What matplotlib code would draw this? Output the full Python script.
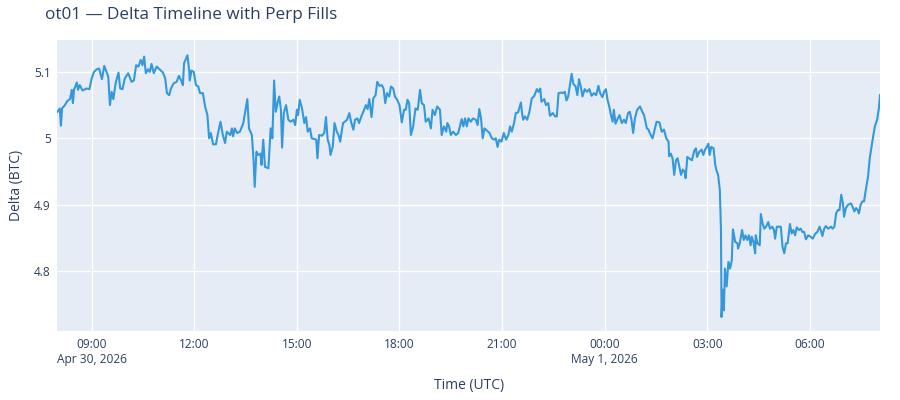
"""Delta timeline for ot01, re-drawn in matplotlib in a plotly-like style."""

import numpy as np
import pandas as pd
import matplotlib
matplotlib.use("Agg")
import matplotlib.pyplot as plt
import matplotlib.dates as mdates
from matplotlib.ticker import FuncFormatter

START = pd.Timestamp("2026-04-30 08:00")

# minutes after START and delta (BTC)
minutes = [
    0, 4, 6, 8, 13, 17, 22, 25, 27, 29, 34, 36, 39, 44, 51, 56, 60, 64, 69, 73,
    78, 82, 86, 89, 92, 95, 98, 102, 107, 110, 114, 118, 124, 130, 134, 138, 142, 146, 149, 152,
    155, 159, 162, 165, 169, 174, 179, 185, 189, 192, 196, 199, 204, 209, 213, 217, 220, 222, 228, 231,
    232, 235, 239, 243, 247, 250, 255, 259, 263, 266, 269, 273, 278, 281, 286, 290, 294, 297, 303, 306,
    308, 311, 315, 320, 326, 333, 336, 341, 344, 346, 349, 352, 356, 358, 361, 364, 370, 374, 377, 380,
    383, 386, 389, 392, 394, 397, 401, 405, 409, 414, 417, 420, 422, 425, 429, 433, 436, 439, 443, 446,
    450, 454, 456, 459, 464, 468, 471, 474, 477, 479, 483, 486, 490, 493, 496, 499, 501, 504, 508, 512,
    515, 519, 522, 526, 529, 534, 538, 541, 544, 547, 551, 554, 558, 561, 565, 569, 572, 575, 578, 582,
    585, 589, 592, 596, 600, 604, 608, 611, 614, 617, 620, 624, 628, 632, 636, 639, 643, 646, 651, 655,
    658, 662, 666, 671, 674, 678, 682, 684, 687, 690, 694, 699, 703, 706, 709, 712, 715, 718, 721, 725,
    729, 734, 737, 740, 743, 746, 749, 753, 758, 762, 766, 769, 772, 775, 779, 783, 787, 791, 794, 797,
    801, 804, 808, 813, 815, 817, 820, 824, 828, 832, 836, 841, 844, 847, 849, 854, 857, 861, 864, 869,
    873, 876, 879, 883, 886, 890, 893, 896, 899, 902, 905, 909, 912, 915, 918, 921, 925, 929, 933, 937,
    941, 945, 949, 952, 956, 959, 962, 965, 968, 971, 974, 976, 979, 983, 986, 990, 994, 997, 1001, 1004,
    1007, 1010, 1013, 1017, 1022, 1026, 1029, 1032, 1034, 1037, 1039, 1044, 1048, 1051, 1056, 1060, 1064, 1068, 1072, 1073,
    1076, 1079, 1082, 1085, 1088, 1091, 1094, 1097, 1100, 1102, 1105, 1108, 1113, 1117, 1120, 1122, 1126, 1130, 1133, 1136,
    1139, 1142, 1144, 1147, 1151, 1154, 1156, 1159, 1162, 1164, 1165, 1167, 1169, 1171, 1174, 1177, 1180, 1183, 1185, 1189,
    1193, 1194, 1197, 1201, 1204, 1207, 1210, 1213, 1216, 1218, 1221, 1224, 1225, 1228, 1232, 1234, 1237, 1240, 1243, 1247,
    1250, 1254, 1257, 1259, 1262, 1266, 1269, 1272, 1275, 1278, 1281, 1285, 1288, 1291, 1294, 1297, 1301, 1304, 1307, 1310,
    1313, 1317, 1321, 1325, 1329, 1333, 1337, 1339, 1342, 1345, 1348, 1352, 1357, 1360, 1363, 1366, 1369, 1372, 1375, 1378,
    1380, 1383, 1387, 1392, 1395, 1398, 1401, 1404, 1406, 1409, 1412, 1415, 1418, 1422, 1425, 1428, 1431, 1434, 1438, 1441,
    1443,
]
delta = [
    5.040, 5.045, 5.019, 5.045, 5.050, 5.056, 5.059, 5.073, 5.053, 5.073, 5.084, 5.073, 5.080, 5.072, 5.075, 5.074, 5.090, 5.100, 5.104, 5.105,
    5.089, 5.109, 5.100, 5.093, 5.050, 5.070, 5.059, 5.083, 5.099, 5.075, 5.074, 5.090, 5.098, 5.085, 5.087, 5.110, 5.108, 5.118, 5.110, 5.123,
    5.098, 5.104, 5.100, 5.112, 5.098, 5.108, 5.104, 5.099, 5.090, 5.068, 5.065, 5.075, 5.083, 5.085, 5.094, 5.087, 5.080, 5.113, 5.125, 5.103,
    5.087, 5.102, 5.100, 5.080, 5.078, 5.068, 5.068, 5.048, 5.035, 5.000, 5.008, 4.991, 4.991, 5.005, 5.025, 5.005, 4.993, 5.010, 5.005, 5.015,
    5.003, 5.015, 5.008, 5.010, 5.023, 5.059, 5.015, 5.005, 4.967, 4.927, 4.980, 4.975, 4.977, 4.960, 4.998, 4.957, 4.955, 5.015, 5.000, 5.087,
    5.040, 5.053, 5.063, 5.043, 4.986, 5.038, 5.050, 5.028, 5.025, 5.028, 5.020, 5.043, 5.035, 5.058, 5.045, 5.023, 5.032, 5.010, 5.015, 5.000,
    4.999, 4.998, 4.970, 5.005, 5.004, 5.008, 5.032, 4.998, 4.990, 4.975, 4.988, 5.023, 5.010, 5.005, 4.995, 5.013, 5.023, 5.025, 5.028, 5.038,
    5.025, 5.013, 5.028, 5.030, 5.023, 5.035, 5.043, 5.050, 5.044, 5.059, 5.032, 5.060, 5.065, 5.085, 5.079, 5.080, 5.075, 5.053, 5.068, 5.063,
    5.078, 5.075, 5.063, 5.058, 5.050, 5.024, 5.043, 5.043, 5.058, 5.053, 5.005, 5.018, 5.045, 5.043, 5.073, 5.053, 5.050, 5.025, 5.030, 5.015,
    5.043, 5.035, 5.048, 5.043, 5.005, 5.018, 5.010, 5.023, 5.018, 5.005, 5.010, 5.005, 5.008, 5.018, 5.029, 5.018, 5.030, 5.018, 5.030, 5.025,
    5.030, 5.028, 5.020, 5.044, 5.030, 5.000, 5.015, 5.012, 5.008, 5.000, 4.998, 5.000, 4.987, 4.998, 4.995, 5.008, 4.998, 5.005, 5.018, 5.010,
    5.023, 5.038, 5.039, 5.054, 5.038, 5.028, 5.033, 5.028, 5.040, 5.060, 5.063, 5.074, 5.070, 5.075, 5.055, 5.059, 5.050, 5.053, 5.034, 5.038,
    5.033, 5.033, 5.068, 5.069, 5.068, 5.070, 5.057, 5.063, 5.080, 5.097, 5.082, 5.078, 5.065, 5.089, 5.078, 5.063, 5.074, 5.070, 5.074, 5.064,
    5.068, 5.065, 5.079, 5.068, 5.062, 5.070, 5.074, 5.058, 5.048, 5.035, 5.025, 5.043, 5.022, 5.030, 5.035, 5.023, 5.028, 5.023, 5.038, 5.040,
    5.028, 5.008, 5.030, 5.043, 5.048, 5.040, 5.035, 5.023, 5.015, 5.013, 5.008, 5.000, 5.014, 5.025, 5.024, 5.010, 5.013, 5.000, 4.995, 4.973,
    4.977, 4.970, 4.945, 4.967, 4.970, 4.957, 4.945, 4.953, 4.950, 4.940, 4.972, 4.970, 4.967, 4.981, 4.985, 4.972, 4.980, 4.983, 4.975, 4.983,
    4.987, 4.992, 4.975, 4.987, 4.985, 4.960, 4.952, 4.945, 4.922, 4.862, 4.731, 4.772, 4.741, 4.804, 4.777, 4.814, 4.804, 4.817, 4.863, 4.844,
    4.842, 4.834, 4.842, 4.862, 4.847, 4.854, 4.847, 4.854, 4.839, 4.852, 4.844, 4.827, 4.854, 4.842, 4.839, 4.886, 4.872, 4.864, 4.867, 4.874,
    4.864, 4.867, 4.862, 4.849, 4.867, 4.867, 4.867, 4.837, 4.827, 4.842, 4.842, 4.871, 4.857, 4.862, 4.854, 4.866, 4.862, 4.864, 4.859, 4.859,
    4.848, 4.854, 4.852, 4.849, 4.856, 4.859, 4.867, 4.862, 4.853, 4.864, 4.868, 4.864, 4.867, 4.864, 4.867, 4.887, 4.892, 4.892, 4.915, 4.902,
    4.882, 4.895, 4.900, 4.902, 4.897, 4.890, 4.895, 4.892, 4.887, 4.900, 4.905, 4.905, 4.922, 4.942, 4.970, 4.987, 5.003, 5.018, 5.028, 5.045,
    5.065,
]

y_ticks = [4.8, 4.9, 5.0, 5.1]

times = START + pd.to_timedelta(np.array(minutes), unit="min")

plt.rcParams["font.family"] = ["Open Sans", "DejaVu Sans"]
TEXT = "#2a3f5f"

fig = plt.figure(figsize=(9, 4), dpi=100)
ax = fig.add_axes([57.5 / 900, 69 / 400, (880 - 57.5) / 900, 291 / 400])
ax.set_facecolor("#E5ECF6")

ax.plot(times, delta, color="#3498db", linewidth=1.5, solid_joinstyle="round")

ax.set_xlim(times[0], times[-1])
ax.set_ylim(4.710, 5.148)
ax.set_yticks(y_ticks)
ax.yaxis.set_major_formatter(FuncFormatter(lambda v, _: f"{v:g}"))

ax.xaxis.set_major_locator(mdates.HourLocator(byhour=range(0, 24, 3)))


def fmt_time(x, pos):
    d = mdates.num2date(x)
    label = d.strftime("%H:%M")
    # plotly puts the date under the first tick and under each new day
    if pos == 0 or (d.hour == 0 and d.minute == 0):
        label += "\n" + f"{d.strftime('%b')} {d.day}, {d.year}"
    return label


ax.xaxis.set_major_formatter(FuncFormatter(fmt_time))

ax.grid(True, color="white", linewidth=1)
ax.set_axisbelow(True)
for s in ax.spines.values():
    s.set_visible(False)
ax.tick_params(axis="both", length=0, labelsize=8.6, colors=TEXT)
ax.tick_params(axis="x", pad=5)
ax.tick_params(axis="y", pad=5)

ax.set_xlabel("Time (UTC)", fontsize=10, color=TEXT, labelpad=9)
ax.set_ylabel("Delta (BTC)", fontsize=10, color=TEXT, labelpad=7)

fig.text(45 / 900, 1 - 15 / 400, "ot01 \u2014 Delta Timeline with Perp Fills",
         fontsize=12.3, color=TEXT, va="center", ha="left")

fig.savefig("out.png", dpi=100, facecolor="white")
plt.close(fig)
